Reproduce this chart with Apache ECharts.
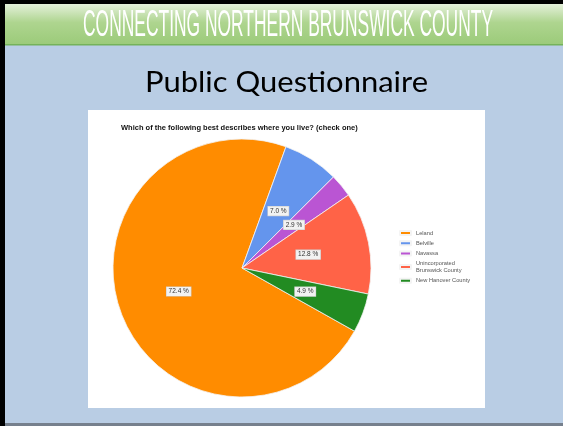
<!DOCTYPE html>
<html>
<head>
<meta charset="utf-8">
<script src="https://cdn.jsdelivr.net/npm/echarts@6/dist/echarts.min.js"></script>
<style>
html,body{margin:0;padding:0;background:#b9cde4;}
#main{width:563px;height:426px;}
</style>
</head>
<body>
<div id="main"></div>
<script>
const categories = ['Leland', 'Belville', 'Navassa', 'Unincorporated\nBrunswick County', 'New Hanover County'];
const values = [72.4, 7.0, 2.9, 12.8, 4.9];
const colors = ['#ff8c00', '#6495ed', '#ba55d3', '#ff6347', '#228b22'];
const headerText = 'CONNECTING NORTHERN BRUNSWICK COUNTY';
const slideTitle = 'Public Questionnaire';
const chartTitle = 'Which of the following best describes where you live? (check one)';

function fitScale(text, font, target) {
  const c = document.createElement('canvas').getContext('2d');
  c.font = font;
  const w = c.measureText(text).width;
  return w > 0 ? target / w : 1;
}

const headerFont = '36px "Liberation Sans"';
const titleFont = '28px Lato';
const headerScale = fitScale(headerText, headerFont, 410);
const titleScale = fitScale(slideTitle, titleFont, 283);

const chart = echarts.init(document.getElementById('main'), null, {renderer: 'canvas'});
chart.setOption({
  animation: false,
  backgroundColor: '#b9cde4',
  title: {
    text: chartTitle,
    left: 116,
    top: 119,
    textStyle: {fontFamily: 'Liberation Sans', fontSize: 7.5, fontWeight: 'bold', color: '#111'}
  },
  legend: {
    orient: 'vertical',
    left: 399,
    top: 229.5,
    padding: 0,
    icon: 'rect',
    itemWidth: 11,
    itemHeight: 4,
    itemGap: 3.2,
    textStyle: {fontFamily: 'Liberation Sans', fontSize: 5.7, lineHeight: 7, color: '#555'},
    data: categories
  },
  graphic: [
    {type: 'rect', shape: {x: 0, y: 0, width: 563, height: 426}, style: {fill: '#b9cde4'}, z: -10},
    {type: 'rect', shape: {x: 0, y: 4, width: 563, height: 41},
      style: {fill: new echarts.graphic.LinearGradient(0, 0, 0, 1, [
        {offset: 0, color: '#e4f0da'}, {offset: 0.45, color: '#aed58f'}, {offset: 1, color: '#9bca79'}])}, z: -9},
    {type: 'rect', shape: {x: 0, y: 44, width: 563, height: 1.5}, style: {fill: '#74b25a'}, z: -8},
    {type: 'rect', shape: {x: 0, y: 0, width: 563, height: 4}, style: {fill: '#000'}, z: -8},
    {type: 'rect', shape: {x: 0, y: 0, width: 5, height: 426}, style: {fill: '#000'}, z: -7},
    {type: 'rect', shape: {x: 5, y: 423, width: 558, height: 3}, style: {fill: '#76808d'}, z: -8},
    {type: 'rect', shape: {x: 88, y: 110, width: 397, height: 298}, style: {fill: '#ffffff'}, z: -8},
    {type: 'text', x: 288, y: 26.5, scaleX: headerScale, z: -5,
      style: {text: headerText, font: headerFont, fill: '#ffffff', align: 'center', verticalAlign: 'middle'}},
    {type: 'text', x: 286.5, y: 83, scaleX: titleScale, z: -5,
      style: {text: slideTitle, font: titleFont, fill: '#000000', align: 'center', verticalAlign: 'middle'}}
  ],
  series: [{
    type: 'pie',
    center: [242, 268],
    radius: 129,
    startAngle: -29.3,
    clockwise: true,
    avoidLabelOverlap: false,
    color: colors,
    itemStyle: {borderColor: '#f4f4f4', borderWidth: 0.8},
    label: {
      position: 'inside',
      fontFamily: 'Liberation Sans',
      fontSize: 6.5,
      color: '#333',
      backgroundColor: '#f2f2f2',
      borderColor: '#cfcfcf',
      borderWidth: 0.6,
      padding: [1, 2],
      formatter: p => p.value.toFixed(1) + ' %'
    },
    labelLine: {show: false},
    emphasis: {disabled: true},
    data: categories.map((c, i) => ({name: c, value: values[i]}))
  }]
});
</script>
</body>
</html>
